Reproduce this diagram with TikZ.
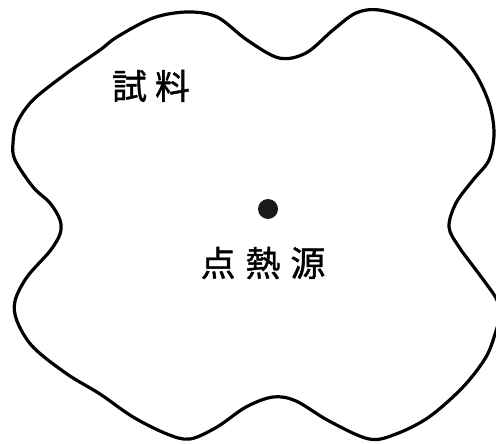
\documentclass[tikz,border=0pt]{standalone}
\usepackage{fontspec}
\newfontfamily\cjk[FakeBold=1.2]{Noto Sans CJK JP}
\tikzset{
  outline/.style={line width=3.2bp, line join=round},
  label/.style={font=\cjk\fontsize{35}{35}\selectfont, inner sep=0pt, anchor=center},
  source/.style={circle, fill=black!90, minimum size=20bp, inner sep=0pt}
}
\begin{document}
\begin{tikzpicture}[x=1bp,y=-1bp]
\useasboundingbox (0,0) rectangle (496,444);
\fill[white] (0,0) rectangle (496,444);
\begin{scope}
\clip (0,0) rectangle (496,444);
\draw[outline] plot[smooth cycle, tension=0.55] coordinates {
(279,58) (306,53) (333,30) (356,13) (379,10) (413,20) (446,40) (473,70) (489,103) (494,133) (489,160) (473,180) (456,203) (449,227) (459,247) (479,274) (497,300) (499,318) (496,331) (486,357) (463,387) (429,417) (396,434) (369,439) (329,421) (296,401) (273,397) (246,407) (217,427) (190,439) (167,434) (133,417) (100,394) (67,374) (33,347) (17,321) (15,301) (27,277) (50,251) (60,234) (60,220) (50,203) (33,187) (15,160) (13,143) (17,123) (33,100) (67,73) (100,50) (117,37) (153,18) (187,12) (217,17) (247,40)};
\end{scope}
\node[label] (sample) at (151,86) {試\hspace{8bp}料};
\node[source] (dot) at (268,209) {};
\node[label] (heat) at (263,263) {点\hspace{10bp}熱\hspace{10bp}源};
\end{tikzpicture}
\end{document}
